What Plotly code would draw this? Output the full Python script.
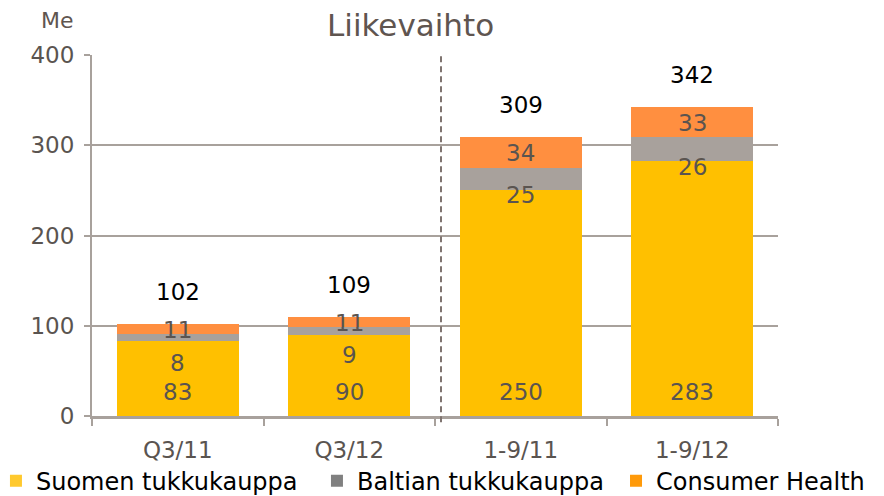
import plotly.graph_objects as go

categories = ["Q3/11", "Q3/12", "1-9/11", "1-9/12"]
suomen = [83, 90, 250, 283]
baltian = [8, 9, 25, 26]
consumer = [11, 11, 34, 33]
totals = [102, 109, 309, 342]
series_names = ["Suomen tukkukauppa", "Baltian tukkukauppa", "Consumer Health"]
y_ticks = [0, 100, 200, 300, 400]

bar_colors = ["#FFC000", "#A8A19C", "#FF8F40"]
legend_colors = ["#FFC92E", "#808080", "#FF9A0A"]
legend_ids = ["legend", "legend2", "legend3"]
FONT = "DejaVu Sans"
label_color = "#5A5450"
axis_color = "#A8A19C"

fig = go.Figure()
for name, vals, col in zip(series_names, [suomen, baltian, consumer], bar_colors):
    fig.add_trace(go.Bar(x=categories, y=vals, name=name, marker_color=col,
                         marker_line_width=0, showlegend=False, hoverinfo="skip"))
# legend-only entries (swatch colours of the reference legend)
for name, col, lid in zip(series_names, legend_colors, legend_ids):
    fig.add_trace(go.Bar(x=[categories[0]], y=[None], name=name, marker_color=col,
                         marker_line_width=0, showlegend=True, legend=lid))

baltian_shift = [-22, -20, -5, -6]
for i, c in enumerate(categories):
    fig.add_annotation(x=c, y=0, text=str(suomen[i]), showarrow=False, yshift=24,
                       font=dict(family=FONT, size=23, color=label_color))
    fig.add_annotation(x=c, y=suomen[i], text=str(baltian[i]), showarrow=False,
                       yshift=baltian_shift[i],
                       font=dict(family=FONT, size=23, color=label_color))
    top = suomen[i] + baltian[i] + consumer[i]
    fig.add_annotation(x=c, y=top - consumer[i] / 2, text=str(consumer[i]), showarrow=False,
                       yshift=-1, font=dict(family=FONT, size=23, color=label_color))
    fig.add_annotation(x=c, y=top, text=str(totals[i]), showarrow=False, yshift=32,
                       font=dict(family=FONT, size=23, color="#000000"))

fig.add_shape(type="line", xref="x", yref="paper", x0=1.535, x1=1.535, y0=-0.017, y1=1.0,
              line=dict(color="#7F7470", width=2, dash="6px,4px"))

fig.add_annotation(xref="paper", yref="paper", x=0.4636, y=1.0, yshift=30,
                   xanchor="center", yanchor="middle",
                   text="Liikevaihto", showarrow=False,
                   font=dict(family=FONT, size=31, color="#5F5550"))
fig.add_annotation(xref="paper", yref="paper", x=-0.051, y=1.0, yshift=35,
                   xanchor="center", yanchor="middle",
                   text="Me", showarrow=False,
                   font=dict(family=FONT, size=22, color="#5F5550"))

legend_common = dict(orientation="h", xanchor="left",
                     yref="container", y=0.046, yanchor="middle",
                     font=dict(family=FONT, size=24, color="#000000"),
                     itemclick=False, bgcolor="rgba(0,0,0,0)")

fig.update_layout(
    barmode="stack", bargap=0.29,
    width=884, height=496,
    margin=dict(l=84, r=114, t=47, b=88, autoexpand=False),
    paper_bgcolor="white", plot_bgcolor="white",
    font=dict(family=FONT, size=23, color=label_color),
    legend=dict(xref="paper", x=-0.14, **legend_common),
    legend2=dict(xref="container", x=0.3495, **legend_common),
    legend3=dict(xref="container", x=0.6878, **legend_common),
    xaxis=dict(tickson="boundaries", ticks="outside", ticklen=7, tickwidth=2,
               tickcolor=axis_color, showline=True, linecolor=axis_color, linewidth=3,
               tickfont=dict(family=FONT, size=23, color="#5A5450"),
               ticklabelstandoff=11, showgrid=False),
    yaxis=dict(range=[0, 400], tickvals=y_ticks, ticks="outside", ticklen=6, tickwidth=2,
               tickcolor=axis_color, showline=True, linecolor=axis_color, linewidth=2,
               gridcolor=axis_color, gridwidth=2, zeroline=False,
               tickfont=dict(family=FONT, size=23, color="#5A5450"),
               ticklabelstandoff=5),
)

fig.write_html("out.html")
